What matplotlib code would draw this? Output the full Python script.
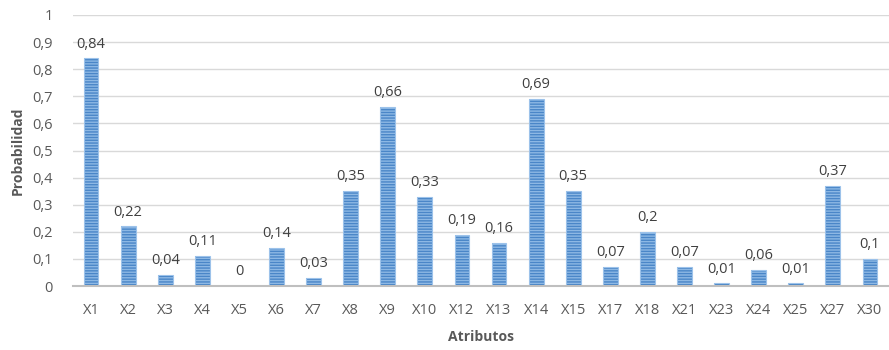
import matplotlib.pyplot as plt
import numpy as np

atributos = ['X1', 'X2', 'X3', 'X4', 'X5', 'X6', 'X7', 'X8', 'X9', 'X10', 'X12',
             'X13', 'X14', 'X15', 'X17', 'X18', 'X21', 'X23', 'X24', 'X25', 'X27', 'X30']
probabilidad = [0.84, 0.22, 0.04, 0.11, 0, 0.14, 0.03, 0.35, 0.66, 0.33, 0.19,
                0.16, 0.69, 0.35, 0.07, 0.2, 0.07, 0.01, 0.06, 0.01, 0.37, 0.1]

plt.rcParams['font.family'] = ['Open Sans', 'DejaVu Sans']
plt.rcParams['hatch.linewidth'] = 1.0
txt = '#595959'

fig = plt.figure(figsize=(8.89, 3.5), dpi=100)
ax = fig.add_axes([72.5 / 889, 64 / 350, 816 / 889, 271 / 350])

x = np.arange(len(atributos))
ax.bar(x, probabilidad, width=0.4, color='#8db8e4', edgecolor='#4a86c8',
       hatch='------', linewidth=0, zorder=3)
# light outline on top of the hatched bars
ax.bar(x, probabilidad, width=0.4, fill=False, edgecolor='#9cc2ea',
       linewidth=0.8, zorder=4)

for xi, v in zip(x, probabilidad):
    ax.text(xi, v + 0.025, f'{v:g}'.replace('.', ','), ha='center', va='bottom',
            fontsize=10.5, color='#404040')

ax.set_xlim(-0.5, len(atributos) - 0.5)
ax.set_ylim(0, 1)
yt = np.arange(0, 1.01, 0.1).round(1)
ax.set_yticks(yt)
ax.set_yticklabels([f'{t:g}'.replace('.', ',') for t in yt])
ax.set_xticks(x)
ax.set_xticklabels(atributos)
ax.tick_params(axis='both', length=0, labelsize=10.5, colors=txt)
ax.tick_params(axis='y', pad=14)
ax.tick_params(axis='x', pad=12)
ax.yaxis.grid(True, color='#d9d9d9', linewidth=1, zorder=0)
for s in ['top', 'right', 'left']:
    ax.spines[s].set_visible(False)
ax.spines['bottom'].set_color('#bfbfbf')
ax.spines['bottom'].set_linewidth(1.5)
ax.spines['bottom'].set_zorder(5)

ax.set_ylabel('Probabilidad', fontsize=10, fontweight='bold', color=txt)
ax.yaxis.set_label_coords(-0.058, 0.5)
ax.set_xlabel('Atributos', fontsize=10, fontweight='bold', color=txt, labelpad=9)

fig.savefig('out.png', dpi=100)
